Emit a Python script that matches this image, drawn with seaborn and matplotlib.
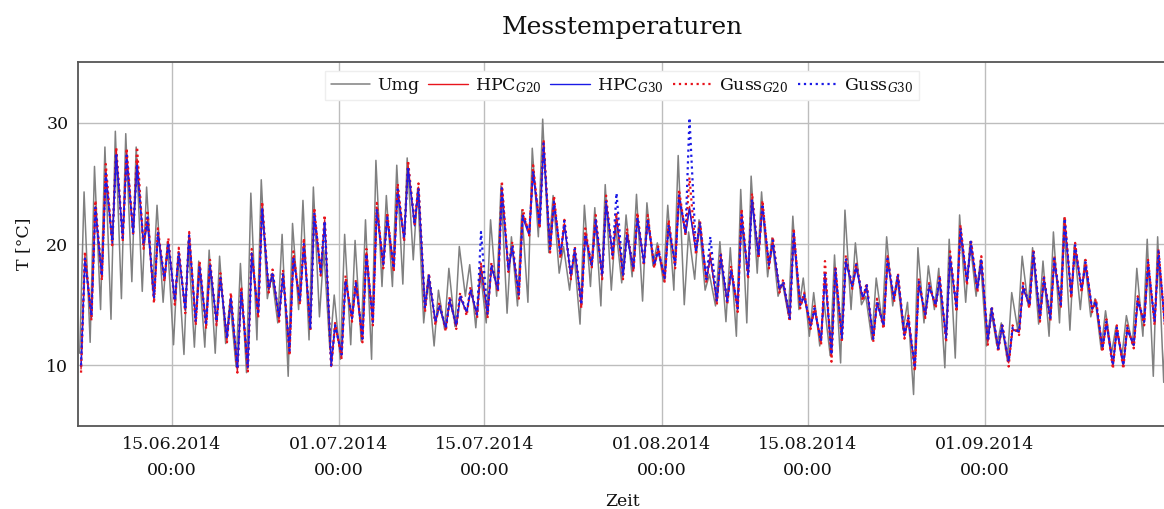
import numpy as np
import pandas as pd
import matplotlib
matplotlib.use('Agg')
import matplotlib.pyplot as plt
import matplotlib.dates as mdates
import seaborn as sns

# Tageswerte (Minimum, Maximum) ab 06.06.2014
umg = [
    11.0, 24.3, 11.9, 26.4, 14.6, 28.0, 13.8, 29.3, 15.5, 29.1, 16.9, 28.0, 16.1, 24.7,
    16.2, 23.2, 15.2, 20.2, 11.7, 19.0, 10.9, 20.3, 11.5, 18.6, 11.5, 19.5, 11.0, 19.0,
    11.8, 15.3, 9.9, 18.4, 9.4, 24.2, 12.1, 25.3, 15.5, 17.5, 13.5, 20.8, 9.1, 21.7,
    14.6, 23.6, 12.1, 24.7, 14.0, 19.5, 11.3, 15.8, 10.5, 20.8, 11.7, 20.3, 12.0, 22.0,
    10.5, 26.9, 16.5, 24.0, 16.5, 26.5, 16.7, 27.1, 18.7, 24.5, 13.5, 17.3, 11.6, 16.2,
    13.0, 18.0, 13.2, 19.8, 15.7, 18.3, 13.1, 17.9, 13.5, 22.0, 15.7, 24.8, 14.3, 20.6,
    14.9, 22.8, 15.2, 27.9, 20.6, 30.3, 19.3, 24.0, 17.6, 19.8, 16.2, 19.3, 13.4, 23.2,
    16.5, 23.0, 14.9, 24.9, 16.2, 21.5, 16.8, 22.4, 17.3, 24.1, 15.3, 23.4, 18.2, 20.1,
    16.9, 23.2, 16.2, 27.3, 15.0, 21.0, 17.1, 22.0, 16.2, 17.5, 14.9, 20.2, 13.6, 19.7,
    12.4, 24.5, 13.5, 25.6, 17.6, 24.3, 17.3, 20.5, 15.7, 16.8, 14.1, 22.3, 14.6, 17.2,
    12.4, 16.0, 11.6, 15.2, 10.8, 19.1, 10.2, 22.8, 14.6, 20.1, 15.0, 15.7, 12.1, 17.2,
    13.5, 20.6, 14.9, 17.3, 12.9, 15.2, 7.6, 19.7, 13.5, 18.2, 14.6, 18.0, 9.8, 20.4,
    10.6, 22.4, 15.2, 20.2, 15.7, 18.7, 11.6, 14.6, 11.6, 13.5, 10.4, 16.0, 12.9, 19.0,
    14.9, 19.7, 13.4, 18.6, 12.4, 21.0, 13.5, 22.1, 12.9, 19.9, 14.6, 18.7, 14.0, 15.5,
    11.3, 14.5, 11.0, 13.2, 10.8, 14.1, 11.7, 18.0, 12.4, 20.4, 9.1, 20.6, 8.6, 20.0,
]

hpc_g20 = [
    9.7, 19.0, 13.9, 23.1, 17.2, 26.0, 20.1, 27.8, 20.4, 27.5, 20.9, 27.0, 19.8, 22.0,
    15.3, 21.0, 17.1, 20.2, 15.2, 19.4, 14.5, 20.8, 13.5, 18.3, 13.2, 18.4, 13.5, 17.3,
    12.1, 15.7, 9.5, 16.2, 9.7, 19.3, 14.1, 23.2, 16.2, 17.6, 13.8, 17.6, 11.0, 19.0,
    15.2, 20.1, 13.0, 22.7, 17.6, 22.0, 9.9, 13.2, 10.8, 17.1, 13.8, 16.8, 12.1, 19.3,
    13.5, 23.0, 18.2, 22.3, 17.9, 24.6, 20.4, 26.5, 21.7, 24.7, 14.6, 17.3, 13.5, 14.9,
    13.0, 15.4, 13.2, 15.7, 14.3, 16.2, 14.1, 18.2, 14.1, 18.2, 16.2, 24.7, 17.9, 19.8,
    15.7, 22.5, 20.9, 26.1, 21.5, 28.5, 19.5, 23.6, 19.0, 21.7, 17.3, 19.5, 14.9, 20.9,
    18.2, 22.0, 17.3, 23.6, 19.0, 22.3, 17.3, 20.9, 17.9, 22.3, 18.4, 22.0, 18.2, 19.5,
    17.1, 21.7, 18.2, 24.1, 20.9, 23.1, 19.3, 21.7, 17.0, 19.0, 15.2, 19.0, 15.2, 17.9,
    14.6, 22.5, 17.3, 23.8, 19.0, 23.2, 18.2, 20.2, 16.2, 16.8, 13.8, 20.9, 14.9, 15.7,
    13.2, 14.6, 11.9, 17.6, 10.8, 17.9, 12.1, 18.7, 16.5, 18.2, 15.5, 16.5, 12.1, 15.2,
    13.2, 18.7, 15.4, 17.3, 12.4, 13.8, 9.7, 16.8, 14.1, 16.5, 14.9, 17.1, 12.1, 19.0,
    14.6, 21.2, 16.8, 20.1, 16.2, 18.7, 11.9, 14.6, 11.3, 13.2, 10.2, 13.0, 12.7, 16.5,
    14.9, 19.3, 13.8, 17.1, 13.8, 18.7, 14.9, 22.0, 15.7, 19.8, 16.2, 18.4, 14.6, 15.2,
    11.3, 13.5, 9.9, 13.0, 9.9, 13.0, 11.6, 15.4, 13.5, 18.4, 13.5, 19.3, 13.2, 15.0,
]

hpc_g30 = [
    9.9, 18.6, 14.0, 22.8, 17.3, 25.6, 20.0, 27.2, 20.5, 27.0, 20.8, 26.4, 19.9, 21.8,
    15.6, 20.8, 17.0, 20.0, 15.4, 19.2, 14.6, 20.5, 13.7, 18.1, 13.4, 18.2, 13.6, 17.1,
    12.3, 15.5, 9.8, 16.0, 9.9, 19.0, 14.2, 22.9, 16.3, 17.5, 14.0, 17.4, 11.3, 18.8,
    15.3, 19.9, 13.2, 22.4, 17.5, 21.8, 10.2, 13.4, 11.0, 16.9, 13.9, 16.7, 12.3, 19.0,
    13.7, 22.7, 18.3, 22.1, 18.0, 24.3, 20.3, 26.2, 21.5, 24.4, 14.8, 17.2, 13.6, 14.8,
    13.1, 15.3, 13.3, 15.6, 14.4, 16.1, 14.2, 18.0, 14.2, 18.1, 16.3, 24.3, 17.8, 19.7,
    15.8, 22.2, 20.7, 25.8, 21.4, 28.0, 19.6, 23.4, 19.1, 21.5, 17.4, 19.4, 15.1, 20.6,
    18.1, 21.8, 17.4, 23.3, 19.1, 22.1, 17.4, 20.7, 17.9, 22.1, 18.5, 21.8, 18.3, 19.4,
    17.2, 21.5, 18.3, 23.8, 20.8, 22.9, 19.4, 21.5, 17.1, 18.9, 15.3, 18.8, 15.3, 17.7,
    14.8, 22.2, 17.4, 23.5, 19.0, 23.0, 18.3, 20.0, 16.3, 16.7, 14.0, 20.6, 15.0, 15.6,
    13.3, 14.5, 12.1, 17.3, 11.0, 17.7, 12.3, 18.5, 16.4, 18.0, 15.5, 16.4, 12.3, 15.1,
    13.3, 18.5, 15.5, 17.2, 12.6, 13.7, 9.9, 16.6, 14.2, 16.4, 15.0, 16.9, 12.3, 18.8,
    14.7, 21.0, 16.9, 19.9, 16.3, 18.5, 12.1, 14.5, 11.5, 13.1, 10.4, 12.9, 12.8, 16.3,
    15.0, 19.1, 13.9, 17.0, 13.9, 18.5, 15.0, 21.7, 15.8, 19.6, 16.3, 18.2, 14.7, 15.1,
    11.5, 13.4, 10.1, 12.9, 10.1, 12.9, 11.7, 15.2, 13.6, 18.2, 13.6, 19.0, 13.3, 15.0,
]

guss_g20 = [
    9.4, 19.4, 13.7, 23.6, 17.0, 26.6, 19.9, 28.0, 20.2, 27.9, 20.7, 28.0, 19.6, 22.8,
    15.1, 21.3, 16.9, 20.5, 15.0, 19.7, 14.3, 21.0, 13.3, 18.6, 13.0, 18.7, 13.3, 17.6,
    11.9, 16.0, 9.4, 16.5, 9.5, 19.6, 13.9, 23.5, 16.0, 17.9, 13.6, 17.9, 10.8, 19.4,
    15.0, 20.5, 12.8, 23.0, 17.4, 22.4, 9.8, 13.5, 10.6, 17.4, 13.6, 17.1, 11.9, 19.6,
    13.3, 23.4, 18.0, 22.6, 17.7, 25.0, 20.2, 26.9, 21.5, 25.0, 14.4, 17.6, 13.3, 15.2,
    12.8, 15.7, 13.0, 16.0, 14.1, 16.5, 13.9, 18.5, 13.9, 18.5, 16.0, 25.2, 17.7, 20.2,
    15.5, 22.9, 20.7, 26.5, 21.3, 28.6, 19.3, 24.0, 18.8, 22.0, 17.1, 19.8, 14.7, 21.3,
    18.0, 22.4, 17.1, 24.0, 18.8, 22.6, 17.1, 21.3, 17.7, 22.6, 18.2, 22.4, 18.0, 19.8,
    16.9, 22.0, 18.0, 24.5, 20.7, 25.5, 19.1, 22.0, 16.8, 19.4, 15.0, 19.3, 15.0, 18.2,
    14.4, 22.9, 17.1, 24.2, 18.8, 23.6, 18.0, 20.6, 16.0, 17.1, 13.6, 21.3, 14.7, 16.0,
    13.0, 14.9, 11.7, 18.6, 10.3, 18.2, 11.9, 19.1, 16.3, 18.5, 15.3, 16.8, 11.9, 15.5,
    13.0, 19.0, 15.2, 17.6, 12.2, 14.1, 9.5, 17.2, 13.9, 16.8, 14.7, 17.4, 11.9, 19.4,
    14.4, 21.6, 16.6, 20.4, 16.0, 19.0, 11.7, 14.9, 11.1, 13.5, 9.9, 13.3, 12.5, 16.8,
    14.7, 19.6, 13.6, 17.4, 13.6, 19.0, 14.7, 22.3, 15.5, 20.1, 16.0, 18.7, 14.4, 15.5,
    11.1, 13.8, 9.7, 13.3, 9.7, 13.3, 11.4, 15.7, 13.3, 18.7, 13.3, 19.6, 13.0, 15.3,
]

guss_g30 = [
    10.0, 18.8, 14.1, 23.0, 17.4, 25.8, 20.2, 27.5, 20.5, 27.3, 21.0, 26.6, 20.0, 22.2,
    15.5, 20.9, 17.2, 20.1, 15.3, 19.3, 14.6, 20.7, 13.6, 18.2, 13.3, 18.3, 13.6, 17.2,
    12.2, 15.6, 9.7, 16.1, 9.8, 19.2, 14.2, 23.0, 16.3, 17.7, 13.9, 17.5, 11.2, 18.9,
    15.3, 20.0, 13.1, 22.6, 17.7, 21.9, 10.0, 13.3, 10.9, 17.0, 13.9, 16.9, 12.2, 19.2,
    13.6, 22.9, 18.3, 22.2, 18.0, 24.5, 20.5, 26.4, 21.8, 24.6, 14.7, 17.4, 13.6, 15.0,
    13.1, 15.5, 13.3, 15.8, 14.4, 16.3, 14.2, 21.0, 14.2, 18.3, 16.3, 24.6, 18.0, 19.9,
    15.8, 22.4, 21.0, 26.0, 21.6, 28.3, 19.6, 23.5, 19.1, 21.9, 17.4, 19.6, 15.0, 20.8,
    18.3, 22.1, 17.4, 23.5, 19.1, 24.2, 17.4, 20.8, 18.0, 22.2, 18.5, 22.1, 18.3, 19.6,
    17.2, 21.6, 18.3, 24.0, 21.0, 30.4, 19.4, 21.8, 17.1, 20.6, 15.3, 19.1, 15.3, 17.9,
    14.7, 22.4, 17.4, 23.7, 19.1, 23.3, 18.3, 20.3, 16.3, 16.9, 13.9, 21.0, 15.0, 15.8,
    13.3, 14.7, 12.0, 17.7, 10.9, 18.0, 12.2, 18.8, 16.6, 18.3, 15.6, 16.6, 12.2, 15.3,
    13.3, 18.8, 15.5, 17.4, 12.5, 13.9, 9.8, 16.9, 14.2, 16.6, 15.0, 17.2, 12.2, 19.1,
    14.7, 21.3, 16.9, 20.2, 16.3, 18.8, 12.0, 14.7, 11.4, 13.3, 10.3, 13.1, 12.8, 16.6,
    15.0, 19.4, 13.9, 17.2, 13.9, 18.8, 15.0, 22.1, 15.8, 19.9, 16.3, 18.5, 14.7, 15.3,
    11.4, 13.6, 10.0, 13.1, 10.0, 13.1, 11.7, 15.5, 13.6, 18.5, 13.6, 19.4, 13.3, 15.1,
]

tick_daten = ['2014-06-15', '2014-07-01', '2014-07-15', '2014-08-01', '2014-08-15', '2014-09-01']

# Zeitachse: je Tag ein Minimum (morgens) und ein Maximum (nachmittags)
tage = pd.date_range('2014-06-06', periods=len(umg) // 2, freq='D')
zeit_umg = [t + pd.Timedelta(hours=h) for t in tage for h in (4, 14)]
zeit_geb = [t + pd.Timedelta(hours=h) for t in tage for h in (7, 16)]

sns.set_style('whitegrid')
plt.rcParams['font.family'] = ['DejaVu Serif']
plt.rcParams['mathtext.fontset'] = 'dejavuserif'
plt.rcParams['text.color'] = '#111111'
plt.rcParams['axes.labelcolor'] = '#111111'
plt.rcParams['xtick.color'] = '#111111'
plt.rcParams['ytick.color'] = '#111111'

fig = plt.figure(figsize=(11.64, 5.09), dpi=100)
ax = fig.add_axes([0.067, 0.163, 0.935, 0.715])

sns.lineplot(x=zeit_umg, y=umg, ax=ax, color='#808080', lw=1.1, estimator=None, label='Umg')
sns.lineplot(x=zeit_geb, y=hpc_g20, ax=ax, color='#e8141c', lw=1.0, estimator=None, label='HPC$_{G20}$')
sns.lineplot(x=zeit_geb, y=hpc_g30, ax=ax, color='#1a1ae6', lw=1.0, estimator=None, label='HPC$_{G30}$')
sns.lineplot(x=zeit_geb, y=guss_g20, ax=ax, color='#e8141c', lw=1.6, linestyle=':', estimator=None, label='Guss$_{G20}$')
sns.lineplot(x=zeit_geb, y=guss_g30, ax=ax, color='#1a1ae6', lw=1.6, linestyle=':', estimator=None, label='Guss$_{G30}$')

ax.set_xlim(pd.Timestamp('2014-06-06 00:00'), pd.Timestamp('2014-09-18 10:00'))
ax.set_ylim(5, 35)
ax.set_yticks([10, 20, 30])
ax.set_xticks(pd.to_datetime(tick_daten))
ax.xaxis.set_major_formatter(mdates.DateFormatter('%d.%m.%Y\n%H:%M'))
for lab in ax.get_xticklabels():
    lab.set_linespacing(1.7)

ax.grid(True, color='#bdbdbd', lw=1.0)
ax.tick_params(axis='both', length=0, labelsize=12.5, pad=7)
for s in ['left', 'bottom', 'top']:
    ax.spines[s].set_color('#555555')
    ax.spines[s].set_linewidth(1.3)
ax.spines['right'].set_visible(False)

ax.set_title('Messtemperaturen', fontsize=18, pad=20)
ax.set_xlabel('Zeit', fontsize=12.5, labelpad=10)
ax.set_ylabel('T [°C]', fontsize=12.5, labelpad=10)

leg = ax.legend(loc='upper center', ncol=5, frameon=True, fancybox=False, framealpha=1,
                edgecolor='#eeeeee', fontsize=12.5, handlelength=2.3, columnspacing=0.5,
                handletextpad=0.4, borderaxespad=0.5, borderpad=0.3)

fig.savefig('out.png', dpi=100)
